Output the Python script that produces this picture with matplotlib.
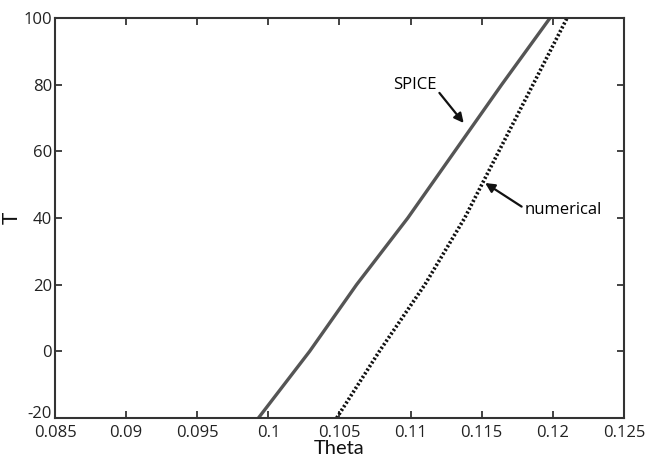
import matplotlib
matplotlib.use('Agg')
import matplotlib.pyplot as plt
from matplotlib.transforms import ScaledTranslation

# values
temps = [-20, 0, 20, 40, 60, 80, 100]
theta_spice = [0.0993, 0.1029, 0.1062, 0.1098, 0.1131, 0.1164, 0.1198]
theta_numerical = [0.1048, 0.1078, 0.1110, 0.1138, 0.1162, 0.1186, 0.1210]

x_ticks = [0.085, 0.09, 0.095, 0.1, 0.105, 0.11, 0.115, 0.12, 0.125]
x_labels = ['0.085', '0.09', '0.095', '0.1', '0.105', '0.11', '0.115', '0.12', '0.125']
y_ticks = [-20, 0, 20, 40, 60, 80, 100]

plt.rcParams['font.family'] = ['Open Sans', 'DejaVu Sans']
plt.rcParams['axes.unicode_minus'] = False

fig = plt.figure(figsize=(6.51, 4.59), dpi=100)
ax = fig.add_axes([0.0845, 0.0893, 0.874, 0.8715])

ax.plot(theta_spice, temps, color='#555555', linewidth=2.4, solid_capstyle='butt')
ax.plot(theta_numerical, temps, color='#111111', linewidth=2.6, linestyle=(0, (0.6, 0.6)))

ax.set_xlim(0.085, 0.125)
ax.set_ylim(-20, 100)
ax.set_xticks(x_ticks)
ax.set_xticklabels(x_labels)
ax.set_yticks(y_ticks)
ax.tick_params(direction='in', top=True, right=True, labelsize=12, length=5, width=1.2, pad=2, colors='#222222')
ax.tick_params(axis='x', pad=5)
for s in ax.spines.values():
    s.set_linewidth(1.5)
    s.set_color('#333333')

# lift the bottom y label a little so it clears 0.085, as in the original
lowest = ax.yaxis.get_major_ticks()[0].label1
lowest.set_transform(lowest.get_transform() + ScaledTranslation(0, 4 / 72, fig.dpi_scale_trans))

ax.set_xlabel('Theta', fontsize=14.5, family=['Lato', 'DejaVu Sans'], color='#111111')
ax.xaxis.set_label_coords(0.5, -0.054)
ax.set_ylabel('T', fontsize=15, family=['Lato', 'DejaVu Sans'], color='#111111')
ax.yaxis.set_label_coords(-0.058, 0.5)

ap = dict(arrowstyle='-|>', color='#111111', lw=1.6, mutation_scale=14, shrinkA=0, shrinkB=0)
ax.annotate('SPICE', xy=(0.11373, 68.5), xytext=(0.1103, 80.0),
            fontsize=12, ha='center', va='center', arrowprops=dict(ap, relpos=(1.0, 0.2)))
ax.annotate('numerical', xy=(0.11524, 50.5), xytext=(0.1180, 42.4),
            fontsize=12, ha='left', va='center', arrowprops=dict(ap, relpos=(0.0, 0.6)))

fig.savefig('out.png', dpi=100)
